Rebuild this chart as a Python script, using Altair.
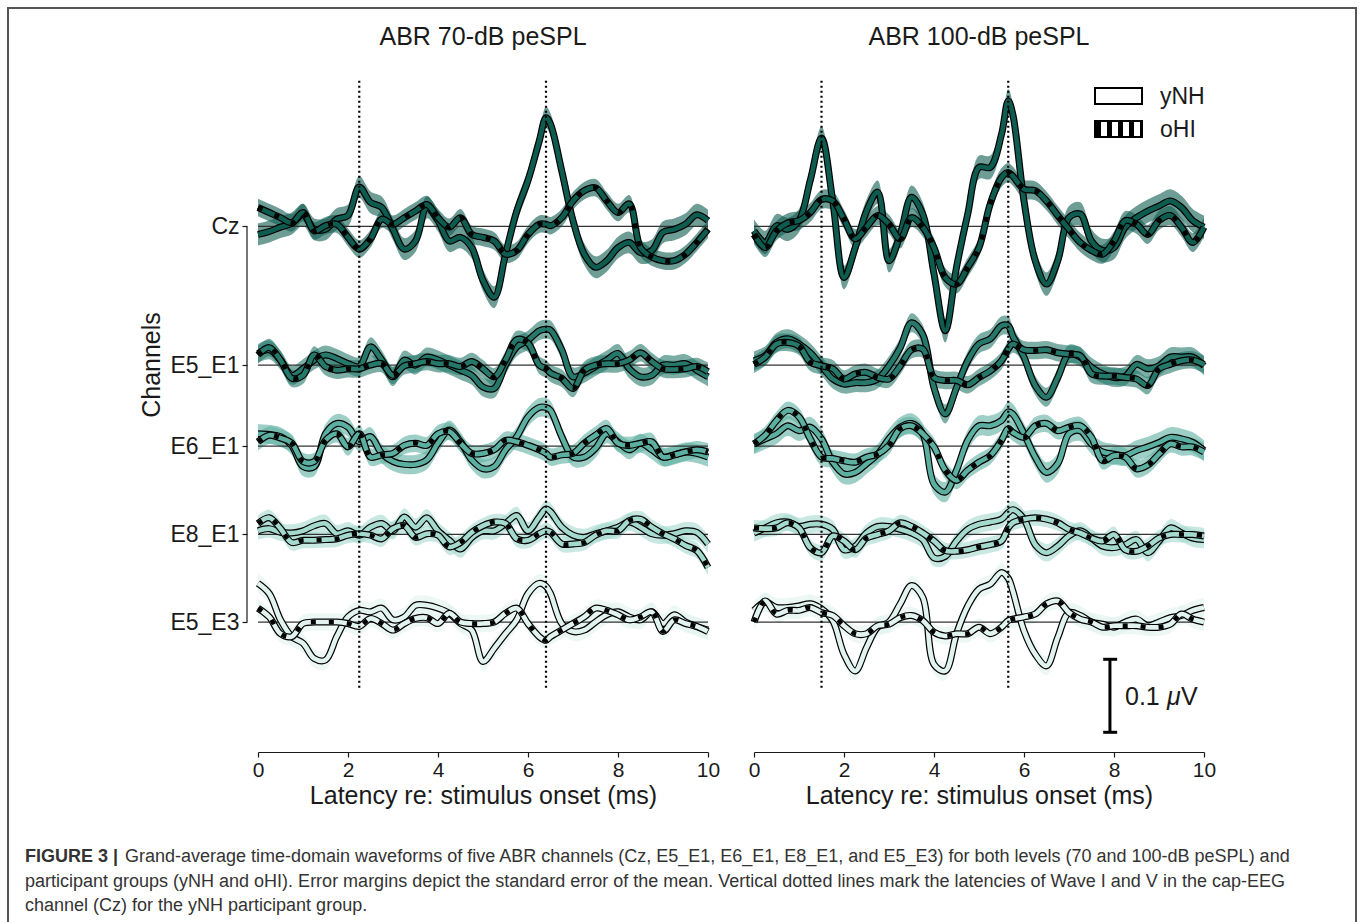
import altair as alt
import pandas as pd

FONT = "Liberation Sans"
INK = "#1a1a1a"
CURVE = "catmull-rom"

# ---------------------------------------------------------------- data
# latency grids (ms)
T70 = [0, 0.25, 0.5, 0.75, 1, 1.25, 1.5, 1.75, 2, 2.25, 2.5, 2.75, 3, 3.25, 3.5, 3.75,
       4, 4.25, 4.5, 4.75, 5, 5.25, 5.5, 5.75, 6, 6.25, 6.4, 6.5, 6.75, 7, 7.25, 7.5,
       7.75, 8, 8.25, 8.5, 8.75, 9, 9.25, 9.5, 9.75, 10]
T100 = [0, 0.25, 0.5, 0.75, 1, 1.25, 1.5, 1.75, 2, 2.25, 2.5, 2.75, 3, 3.25, 3.5, 3.75,
        4, 4.25, 4.5, 4.75, 5, 5.25, 5.5, 5.65, 5.75, 6, 6.25, 6.5, 6.75, 7, 7.25, 7.5,
        7.75, 8, 8.25, 8.5, 8.75, 9, 9.25, 9.5, 9.75, 10]

CHANNELS = ["Cz", "E5_E1", "E6_E1", "E8_E1", "E5_E3"]
OFFSETS = [0.0, -0.190, -0.301, -0.422, -0.542]          # µV, vertical stacking
COLORS = ["#0e5c50", "#25786a", "#5bafa0", "#a4d9cd", "#e1f3ee"]
GROUPS = ["yNH", "oHI"]

# grand-average waveforms (µV), 70-dB peSPL
cz_70_ynh = [-0.011, -0.007, -0.001, 0.004, 0.016, -0.004, -0.004, 0.010, 0.015, 0.054, 0.033, 0.026, -0.004, -0.031, -0.020, 0.026, 0.008, -0.020, -0.015, -0.029, -0.074, -0.097, -0.038, 0.021, 0.063, 0.117, 0.149, 0.140, 0.076, 0.008, -0.038, -0.056, -0.047, -0.029, -0.022, -0.036, -0.033, -0.008, -0.004, 0.003, 0.016, 0.008]
cz_70_ohi = [0.026, 0.019, 0.012, 0.005, 0.019, -0.006, 0.001, 0.003, -0.015, -0.031, -0.017, 0.010, 0.003, 0.012, 0.021, 0.030, 0.012, -0.001, 0.012, -0.011, -0.015, -0.020, -0.038, -0.033, -0.011, 0.003, 0.003, 0.001, 0.012, 0.035, 0.049, 0.053, 0.035, 0.019, 0.031, -0.029, -0.042, -0.047, -0.047, -0.038, -0.022, -0.004]
e5e1_70_ynh = [0.016, 0.021, 0.007, -0.014, -0.005, 0.007, 0.014, 0.009, 0.002, -0.002, 0.025, 0.007, -0.016, 0.007, 0.000, 0.011, 0.007, 0.000, -0.007, -0.014, -0.030, -0.032, 0.000, 0.025, 0.034, 0.047, 0.049, 0.048, 0.021, -0.016, -0.011, -0.002, 0.007, 0.016, -0.005, -0.016, -0.014, 0.000, 0.000, 0.002, -0.007, -0.016]
e5e1_70_ohi = [0.014, 0.024, 0.007, -0.018, -0.014, 0.014, -0.002, -0.007, -0.005, -0.005, 0.000, 0.002, -0.014, -0.001, 0.002, 0.005, 0.002, 0.002, -0.002, 0.005, -0.005, -0.016, 0.007, 0.035, 0.030, 0.000, -0.005, -0.011, -0.018, -0.032, -0.007, 0.000, 0.002, 0.002, 0.007, 0.017, 0.005, -0.005, -0.006, -0.005, -0.002, -0.009]
e6e1_70_ynh = [0.017, 0.016, 0.013, 0.001, -0.028, -0.028, 0.017, 0.031, 0.026, 0.006, 0.013, -0.010, -0.021, -0.025, -0.025, -0.019, 0.004, 0.022, 0.006, -0.019, -0.031, -0.028, -0.005, 0.013, 0.040, 0.053, 0.053, 0.049, 0.013, -0.015, -0.015, -0.003, 0.017, 0.006, -0.005, 0.004, -0.005, -0.015, -0.012, -0.008, -0.010, -0.015]
e6e1_70_ohi = [0.006, 0.015, 0.011, 0.004, -0.021, -0.021, 0.008, 0.017, -0.001, 0.017, -0.015, -0.012, -0.010, 0.001, 0.004, 0.001, 0.017, 0.020, 0.004, -0.010, -0.010, -0.005, 0.008, 0.006, 0.001, -0.005, -0.010, -0.015, -0.012, -0.010, 0.004, 0.015, 0.024, 0.004, 0.001, 0.004, 0.006, -0.015, -0.012, -0.008, -0.005, -0.008]
e8e1_70_ynh = [0.005, 0.008, 0.003, 0.002, 0.005, 0.012, 0.015, 0.001, 0.005, -0.001, 0.010, 0.015, 0.005, 0.024, 0.010, 0.023, 0.005, -0.008, -0.020, -0.004, 0.005, 0.005, 0.015, 0.026, 0.005, 0.024, 0.035, 0.031, 0.010, -0.001, -0.004, 0.001, 0.005, 0.010, 0.017, 0.010, 0.001, -0.001, 0.001, 0.005, 0.003, -0.013]
e8e1_70_ohi = [0.015, 0.023, 0.008, -0.011, -0.008, -0.008, -0.007, -0.006, -0.001, 0.001, -0.001, -0.006, 0.008, 0.012, -0.004, 0.001, -0.001, -0.017, -0.011, 0.003, 0.012, 0.017, 0.015, -0.006, -0.008, 0.001, 0.005, 0.003, -0.013, -0.013, -0.011, -0.001, 0.005, 0.005, 0.019, 0.021, 0.010, 0.001, -0.006, -0.015, -0.022, -0.045]
e5e3_70_ynh = [0.053, 0.039, 0.003, -0.020, -0.029, -0.050, -0.052, -0.020, 0.007, 0.016, 0.014, 0.019, 0.003, 0.007, 0.023, 0.023, 0.019, 0.012, -0.002, -0.011, -0.054, -0.036, -0.016, 0.003, 0.039, 0.053, 0.049, 0.039, -0.002, -0.013, -0.011, 0.000, 0.010, 0.014, 0.007, 0.003, 0.014, -0.002, 0.010, 0.000, -0.006, -0.011]
e5e3_70_ohi = [0.019, 0.007, -0.016, -0.020, -0.002, 0.000, 0.000, 0.000, -0.002, -0.006, 0.005, -0.002, -0.011, -0.002, 0.005, 0.006, -0.002, 0.012, 0.000, -0.002, -0.002, 0.000, 0.012, 0.019, -0.002, -0.020, -0.025, -0.020, -0.011, -0.002, 0.007, 0.019, 0.016, 0.010, 0.003, 0.007, 0.014, -0.013, 0.003, -0.002, -0.006, -0.013]

# grand-average waveforms (µV), 100-dB peSPL
cz_100_ynh = [-0.006, -0.022, 0.001, -0.004, 0.008, 0.063, 0.121, 0.035, -0.070, -0.029, 0.021, 0.047, -0.047, -0.011, 0.040, 0.017, -0.065, -0.143, -0.056, 0.017, 0.081, 0.081, 0.126, 0.172, 0.154, 0.035, -0.047, -0.079, -0.047, 0.012, 0.017, -0.020, -0.033, -0.029, -0.001, 0.012, 0.021, 0.028, 0.035, 0.026, 0.008, -0.001]
cz_100_ohi = [-0.011, -0.029, -0.006, 0.005, 0.008, 0.019, 0.037, 0.035, 0.010, -0.017, -0.001, 0.015, 0.003, -0.017, 0.012, -0.001, -0.029, -0.070, -0.079, -0.056, -0.029, 0.031, 0.067, 0.074, 0.069, 0.051, 0.049, 0.035, 0.015, -0.004, -0.022, -0.033, -0.038, -0.020, 0.008, 0.003, -0.011, 0.008, 0.015, -0.001, -0.022, -0.001]
e5e1_100_ynh = [0.006, 0.013, 0.031, 0.036, 0.029, 0.017, -0.001, -0.019, -0.026, -0.024, -0.024, -0.019, -0.001, 0.024, 0.058, 0.042, -0.031, -0.067, -0.031, 0.006, 0.029, 0.036, 0.054, 0.054, 0.040, 0.011, -0.028, -0.044, -0.017, 0.015, 0.011, -0.003, -0.012, -0.017, -0.015, 0.001, -0.005, -0.001, 0.011, 0.011, 0.011, -0.001]
e5e1_100_ohi = [0.001, 0.011, 0.029, 0.031, 0.026, 0.004, -0.001, -0.005, -0.019, -0.012, -0.010, -0.017, -0.019, -0.001, 0.021, 0.022, -0.017, -0.021, -0.021, -0.027, -0.017, -0.008, 0.006, 0.022, 0.029, 0.021, 0.020, 0.021, 0.017, 0.015, 0.013, -0.012, -0.015, -0.015, -0.017, -0.019, -0.028, -0.005, 0.001, 0.006, 0.007, 0.001]
e6e1_100_ynh = [0.003, 0.010, 0.017, 0.028, 0.021, 0.026, 0.010, -0.022, -0.038, -0.036, -0.024, -0.011, 0.010, 0.026, 0.031, 0.017, -0.052, -0.063, -0.033, 0.008, 0.028, 0.028, 0.035, 0.047, 0.044, 0.017, -0.015, -0.036, -0.024, 0.017, 0.021, 0.003, -0.008, -0.011, -0.013, -0.006, -0.001, 0.005, 0.012, 0.010, 0.005, -0.006]
e6e1_100_ohi = [0.003, 0.015, 0.035, 0.049, 0.040, 0.010, -0.015, -0.017, -0.020, -0.022, -0.015, -0.011, 0.001, 0.024, 0.028, 0.017, -0.001, -0.033, -0.047, -0.033, -0.022, -0.013, 0.008, 0.024, 0.019, 0.012, 0.028, 0.031, 0.021, 0.026, 0.028, 0.012, -0.020, -0.013, -0.015, -0.031, -0.026, -0.011, 0.003, -0.001, -0.001, -0.008]
e8e1_100_ynh = [0.002, 0.009, 0.016, 0.017, 0.011, 0.014, 0.014, 0.007, -0.021, -0.016, 0.002, 0.011, 0.011, 0.007, 0.002, -0.007, -0.032, -0.030, -0.009, 0.007, 0.014, 0.017, 0.021, 0.030, 0.034, 0.021, -0.014, -0.025, -0.016, -0.002, 0.005, -0.005, -0.016, -0.018, -0.014, -0.007, -0.025, -0.009, 0.009, 0.002, -0.005, -0.007]
e8e1_100_ohi = [0.009, 0.008, 0.009, 0.016, 0.009, -0.018, -0.025, -0.002, -0.009, -0.021, -0.005, 0.000, 0.005, 0.016, 0.011, 0.002, -0.009, -0.022, -0.023, -0.021, -0.017, -0.014, -0.009, 0.009, 0.016, 0.021, 0.023, 0.021, 0.016, 0.007, 0.002, -0.005, -0.009, 0.000, -0.021, -0.023, -0.016, -0.005, 0.000, 0.000, 0.000, -0.002]
e5e3_100_ynh = [0.016, 0.027, 0.020, 0.020, 0.022, 0.025, 0.018, 0.002, -0.044, -0.067, -0.035, -0.007, 0.000, 0.025, 0.050, 0.034, -0.058, -0.067, -0.016, 0.022, 0.045, 0.052, 0.068, 0.060, 0.043, -0.012, -0.044, -0.060, -0.021, 0.013, 0.009, 0.000, -0.003, -0.007, 0.000, 0.004, -0.005, 0.000, 0.006, 0.009, 0.016, 0.020]
e5e3_100_ohi = [0.000, 0.029, 0.011, 0.016, 0.016, 0.020, 0.013, 0.009, -0.005, -0.016, -0.016, -0.005, -0.003, 0.006, 0.009, 0.002, -0.014, -0.019, -0.016, -0.016, -0.007, -0.016, -0.007, 0.002, 0.004, 0.007, 0.011, 0.025, 0.029, 0.013, 0.004, 0.000, -0.007, -0.005, -0.005, -0.005, -0.007, -0.007, -0.003, 0.011, 0.004, 0.000]

# standard error of the mean per channel (µV)
SEM_70_YNH = [0.015, 0.013, 0.013, 0.012, 0.013]
SEM_70_OHI = [0.012, 0.012, 0.012, 0.011, 0.012]
SEM_100_YNH = [0.016, 0.013, 0.014, 0.012, 0.013]
SEM_100_OHI = [0.013, 0.012, 0.012, 0.011, 0.012]

# Wave I and Wave V latencies of the yNH Cz response (ms)
PEAKS_70 = [2.25, 6.4]
PEAKS_100 = [1.5, 5.65]

WAVES = {
    "70": (T70, {"yNH": [cz_70_ynh, e5e1_70_ynh, e6e1_70_ynh, e8e1_70_ynh, e5e3_70_ynh],
                 "oHI": [cz_70_ohi, e5e1_70_ohi, e6e1_70_ohi, e8e1_70_ohi, e5e3_70_ohi]},
           {"yNH": SEM_70_YNH, "oHI": SEM_70_OHI}),
    "100": (T100, {"yNH": [cz_100_ynh, e5e1_100_ynh, e6e1_100_ynh, e8e1_100_ynh, e5e3_100_ynh],
                   "oHI": [cz_100_ohi, e5e1_100_ohi, e6e1_100_ohi, e8e1_100_ohi, e5e3_100_ohi]},
            {"yNH": SEM_100_YNH, "oHI": SEM_100_OHI}),
}

rows = []
for level, (times, waves, sems) in WAVES.items():
    for g in GROUPS:
        for ci, ch in enumerate(CHANNELS):
            vals = waves[g][ci]
            assert len(vals) == len(times), (level, g, ch)
            s = sems[g][ci]
            for t, v in zip(times, vals):
                y = OFFSETS[ci] + v
                rows.append({"level": level, "group": g, "channel": ch, "order": ci,
                             "t": t, "y": y, "lo": y - s, "hi": y + s})
df = pd.DataFrame(rows)

baselines = pd.DataFrame({"channel": CHANNELS, "y": OFFSETS, "t0": 0, "t1": 10})

# ---------------------------------------------------------------- encodings
YSCALE = alt.Scale(domain=[-0.72, 0.228], nice=False, zero=False)
label_expr = ("datum.value > -0.1 ? 'Cz' : datum.value > -0.25 ? 'E5_E1' : "
              "datum.value > -0.36 ? 'E6_E1' : datum.value > -0.48 ? 'E8_E1' : 'E5_E3'")
YAXIS = alt.Axis(orient="left", values=OFFSETS, labelExpr=label_expr, offset=11,
                 tickSize=5, tickColor=INK, tickWidth=1.2, domain=False, grid=False,
                 title=None, labelFont=FONT, labelFontSize=23, labelColor=INK,
                 labelPadding=3)
XAXIS = alt.Axis(orient="bottom", values=[0, 2, 4, 6, 8, 10], format="d",
                 title="Latency re: stimulus onset (ms)", grid=False,
                 tickSize=5, tickColor=INK, tickWidth=1.2,
                 domainColor=INK, domainWidth=1.2, labelFlush=False,
                 labelFont=FONT, labelFontSize=21, labelColor=INK, labelPadding=2,
                 titleFont=FONT, titleFontSize=25, titleColor=INK,
                 titleFontWeight="normal", titlePadding=3)
COLOR = alt.Color("channel:N", scale=alt.Scale(domain=CHANNELS, range=COLORS), legend=None)


def ypos(field):
    return alt.Y(f"{field}:Q", scale=YSCALE, axis=YAXIS, stack=None)


def panel(level, rng, peaks):
    def xpos(field):
        return alt.X(f"{field}:Q", scale=alt.Scale(domain=[0, 10], range=rng,
                                                   nice=False, zero=False), axis=XAXIS)

    data = df[df.level == level]
    base = alt.Chart(data)
    ynh = base.transform_filter("datum.group == 'yNH'")
    ohi = base.transform_filter("datum.group == 'oHI'")

    bands = base.mark_area(opacity=0.6, interpolate=CURVE).encode(
        x=xpos("t"), y=ypos("hi"), y2="lo:Q", color=COLOR, detail="group:N")
    zero = alt.Chart(baselines).mark_rule(color="#333333", strokeWidth=1.3).encode(
        x=xpos("t0"), x2="t1:Q", y=ypos("y"))

    def traces(src, dashed):
        out = [
            src.mark_line(color="black", strokeWidth=7, interpolate=CURVE).encode(
                x=xpos("t"), y=ypos("y"), detail="channel:N"),
            src.mark_line(strokeWidth=4.6, interpolate=CURVE).encode(
                x=xpos("t"), y=ypos("y"), color=COLOR, detail="channel:N"),
        ]
        if dashed:
            out.append(src.mark_line(color="black", strokeWidth=4.6, strokeDash=[5, 13],
                                     interpolate=CURVE).encode(
                x=xpos("t"), y=ypos("y"), detail="channel:N"))
        return out

    marks = pd.DataFrame({"t": peaks, "ylo": -0.632, "yhi": 0.203})
    dotted = alt.Chart(marks).mark_rule(color="black", strokeWidth=2.2,
                                        strokeDash=[2, 3]).encode(
        x=xpos("t"), y=ypos("ylo"), y2="yhi:Q")

    layers = [bands, zero] + traces(ynh, False) + traces(ohi, True) + [dotted]

    if level == "100":
        # 0.1 µV calibration bar
        bar = pd.DataFrame({"t": [7.91], "t0": [7.76], "t1": [8.07],
                            "top": [-0.593], "bottom": [-0.593 - 0.1]})
        sb = alt.Chart(bar)
        layers += [
            sb.mark_rule(color="black", strokeWidth=3).encode(
                x=xpos("t"), y=ypos("top"), y2="bottom:Q"),
            sb.mark_rule(color="black", strokeWidth=3).encode(
                x=xpos("t0"), x2="t1:Q", y=ypos("top")),
            sb.mark_rule(color="black", strokeWidth=3).encode(
                x=xpos("t0"), x2="t1:Q", y=ypos("bottom")),
        ]
    return alt.layer(*layers)


# ---------------------------------------------------------------- annotations
def text(label, x, y, size=25, **kw):
    style = dict(font=FONT, fontSize=size, color=INK, align="left", baseline="middle")
    style.update(kw)
    return alt.Chart(pd.DataFrame({"label": [label]})).mark_text(**style).encode(
        x=alt.value(x), y=alt.value(y), text="label:N")


def box(x, x2, y, y2, **kw):
    return alt.Chart(pd.DataFrame({"k": [0]})).mark_rect(**kw).encode(
        x=alt.value(x), x2=alt.value(x2), y=alt.value(y), y2=alt.value(y2))


def hline(x, x2, y, **kw):
    return alt.Chart(pd.DataFrame({"k": [0]})).mark_rule(**kw).encode(
        x=alt.value(x), x2=alt.value(x2), y=alt.value(y))


CAPTION_1 = ("Grand-average time-domain waveforms of five ABR channels (Cz, E5_E1, E6_E1, "
             "E8_E1, and E5_E3) for both levels (70 and 100-dB peSPL) and")
CAPTION_2 = ("participant groups (yNH and oHI). Error margins depict the standard error of the "
             "mean. Vertical dotted lines mark the latencies of Wave I and V in the cap-EEG")
CAPTION_3 = "channel (Cz) for the yNH participant group."

CAP = "#333333"
CAP_SIZE = 18
decor = [
    text("ABR 70-dB peSPL", 225, -23, align="center"),
    text("ABR 100-dB peSPL", 721, -23, align="center"),
    text("Channels", -106, 305, angle=270, align="center"),
    # y-axis spine between the outer channels
    alt.Chart(pd.DataFrame({"a": [0.0], "b": [OFFSETS[-1]]})).mark_rule(
        color=INK, strokeWidth=1.2).encode(x=alt.value(-11), y=ypos("a"), y2="b:Q"),
    # group key
    box(837, 884, 28, 44, fill="white", stroke="black", strokeWidth=2),
    box(837, 884, 61, 77, fill="white", stroke="black", strokeWidth=2),
    hline(838, 883, 69, color="black", strokeWidth=15, strokeDash=[5, 6]),
    text("yNH", 902, 37, size=23),
    text("oHI", 902, 70, size=23),
    # calibration bar label
    text("0.1", 867, 637),
    text("\u03bc", 909, 637, fontStyle="italic"),
    text("V", 923, 637),
    # caption
    text("FIGURE 3 |", -233, 797, size=CAP_SIZE, fontWeight="bold", color=CAP),
    text(CAPTION_1, -133, 797, size=CAP_SIZE, color=CAP),
    text(CAPTION_2, -233, 822, size=CAP_SIZE, color=CAP),
    text(CAPTION_3, -233, 846, size=CAP_SIZE, color=CAP),
    # figure frame
    box(-250, 1098, -52, 880, fillOpacity=0, stroke="#555555", strokeWidth=2),
]

chart = alt.layer(
    panel("70", [0, 450], PEAKS_70),
    panel("100", [496, 946], PEAKS_100),
    *decor,
).resolve_scale(x="independent").properties(
    width=1104, height=692,
    padding={"left": 258, "top": 60, "right": 0, "bottom": 170},
    autosize=alt.AutoSizeParams(type="none"),
    background="white",
).configure_view(strokeWidth=0)

chart.save("out.html", embed_options={"renderer": "svg", "actions": False})
